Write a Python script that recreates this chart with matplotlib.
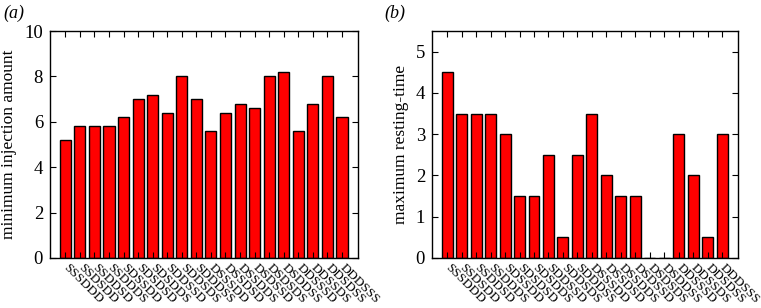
import matplotlib
matplotlib.use("Agg")
import matplotlib.pyplot as plt
import numpy as np

categories = ["SSSDDD", "SSDSDD", "SSDDSD", "SSDDDS", "SDSSDD", "SDSDSD", "SDSDDS",
              "SDDSSD", "SDDSDS", "SDDDSS", "DSSSDD", "DSSDSD", "DSSDDS", "DSDSSD",
              "DSDSDS", "DSDDSS", "DDSSSD", "DDSSDS", "DDSDSS", "DDDSSS"]
injection = [5.2, 5.8, 5.8, 5.8, 6.2, 7.0, 7.2, 6.4, 8.0, 7.0,
             5.6, 6.4, 6.8, 6.6, 8.0, 8.2, 5.6, 6.8, 8.0, 6.2]
resting = [4.5, 3.5, 3.5, 3.5, 3.0, 1.5, 1.5, 2.5, 0.5, 2.5,
           3.5, 2.0, 1.5, 1.5, 0.0, 0.0, 3.0, 2.0, 0.5, 3.0]
yticks_a = [0, 2, 4, 6, 8, 10]
yticks_b = [0, 1, 2, 3, 4, 5]

plt.rcParams['font.family'] = ['Liberation Serif', 'DejaVu Serif']
plt.rcParams['mathtext.fontset'] = 'stix'

fig = plt.figure(figsize=(7.61, 3.08), dpi=100)
W, H = 761, 308
ax1 = fig.add_axes([50 / W, 1 - 258 / H, 308 / W, 227 / H])
ax2 = fig.add_axes([432 / W, 1 - 258 / H, 306 / W, 227 / H])

def style(ax, values, ylim, yticks, ylabel):
    x = np.arange(len(categories))
    ax.bar(x, values, width=0.76, color='#ff0000', edgecolor='black', linewidth=1.0)
    ax.set_xlim(-1.05, len(categories) + 0.1)
    ax.set_ylim(*ylim)
    ax.set_yticks(yticks)
    ax.set_xticks(x)
    ax.set_xticklabels(categories, rotation=-45, ha='left', va='center',
                       rotation_mode='anchor', fontsize=9.5)
    ax.tick_params(direction='in', top=True, right=True, length=4, width=0.8,
                   labelsize=13.5)
    ax.tick_params(axis='x', labelsize=9.5, pad=6)
    ax.tick_params(axis='y', pad=5)
    for s in ax.spines.values():
        s.set_linewidth(1.0)
    ax.set_ylabel(ylabel, fontsize=12.5, labelpad=5)

style(ax1, injection, (0, 10), yticks_a, "minimum injection amount")
style(ax2, resting, (0, 5.5), yticks_b, "maximum resting-time")

fig.text(3 / W, 1 - 13 / H, "(a)", fontsize=13, style='italic', va='center')
fig.text(384 / W, 1 - 13 / H, "(b)", fontsize=13, style='italic', va='center')

fig.savefig("out.png", dpi=100)
